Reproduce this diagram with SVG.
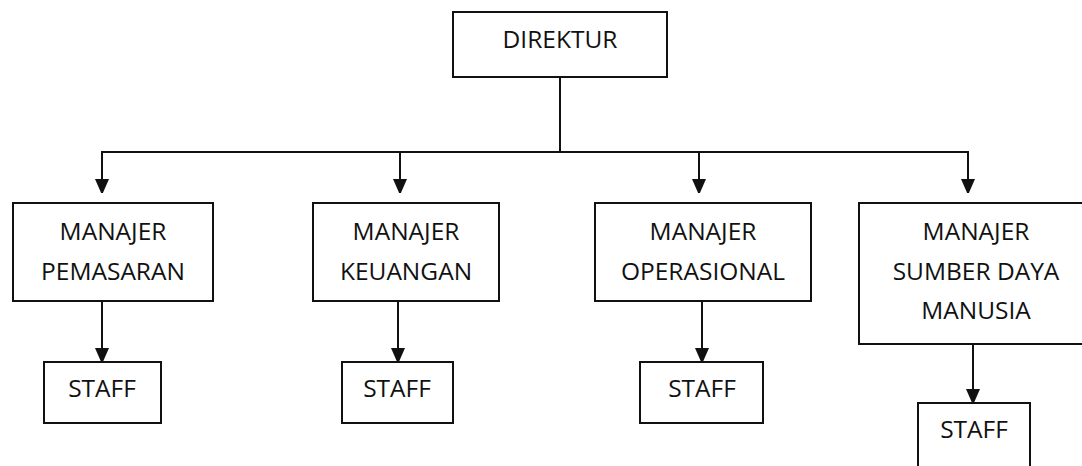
<svg xmlns="http://www.w3.org/2000/svg" width="1082" height="466" viewBox="0 0 1082 466">
  <style>
    .box { fill: #ffffff; stroke: #111111; stroke-width: 2; }
    .lbl { font-family: "Open Sans", "Liberation Sans", sans-serif; font-size: 24.5px; fill: #111111; text-anchor: middle; }
    .line { fill: none; stroke: #111111; stroke-width: 2; }
  </style>
  <defs>
    <marker id="arrow" viewBox="0 0 14 16" refX="14" refY="7" markerWidth="14" markerHeight="16" markerUnits="userSpaceOnUse" orient="auto">
      <path d="M0,0 L16,7 L0,14 Z" fill="#111111"/>
    </marker>
  </defs>
  <rect width="1082" height="466" fill="#ffffff"/>

  <g id="connectors">
    <line class="line" x1="560" y1="77" x2="560" y2="152"/>
    <line class="line" x1="101" y1="152" x2="969" y2="152"/>
    <line class="line" x1="102" y1="152" x2="102" y2="193" marker-end="url(#arrow)"/>
    <line class="line" x1="400" y1="152" x2="400" y2="193" marker-end="url(#arrow)"/>
    <line class="line" x1="699" y1="152" x2="699" y2="193" marker-end="url(#arrow)"/>
    <line class="line" x1="968" y1="152" x2="968" y2="193" marker-end="url(#arrow)"/>
    <line class="line" x1="102" y1="301" x2="102" y2="362" marker-end="url(#arrow)"/>
    <line class="line" x1="398" y1="301" x2="398" y2="362" marker-end="url(#arrow)"/>
    <line class="line" x1="702" y1="301" x2="702" y2="362" marker-end="url(#arrow)"/>
    <line class="line" x1="973" y1="344" x2="973" y2="403" marker-end="url(#arrow)"/>
  </g>

  <g id="direktur">
    <rect class="box" x="453" y="12" width="214" height="65"/>
    <text class="lbl" x="560" y="48">DIREKTUR</text>
  </g>

  <g id="manajer-pemasaran">
    <rect class="box" x="13" y="203" width="200" height="98"/>
    <text class="lbl" x="113" y="240">MANAJER</text>
    <text class="lbl" x="113" y="280">PEMASARAN</text>
  </g>

  <g id="manajer-keuangan">
    <rect class="box" x="313" y="203" width="186" height="98"/>
    <text class="lbl" x="406" y="240">MANAJER</text>
    <text class="lbl" x="406" y="280">KEUANGAN</text>
  </g>

  <g id="manajer-operasional">
    <rect class="box" x="595" y="203" width="216" height="98"/>
    <text class="lbl" x="703" y="240">MANAJER</text>
    <text class="lbl" x="703" y="280">OPERASIONAL</text>
  </g>

  <g id="manajer-sdm">
    <rect class="box" x="859" y="203" width="260" height="141"/>
    <text class="lbl" x="976" y="240">MANAJER</text>
    <text class="lbl" x="976" y="280">SUMBER DAYA</text>
    <text class="lbl" x="976" y="319">MANUSIA</text>
  </g>

  <g id="staff-pemasaran">
    <rect class="box" x="44" y="362" width="117" height="61"/>
    <text class="lbl" x="102" y="397">STAFF</text>
  </g>

  <g id="staff-keuangan">
    <rect class="box" x="342" y="362" width="111" height="61"/>
    <text class="lbl" x="397" y="397">STAFF</text>
  </g>

  <g id="staff-operasional">
    <rect class="box" x="640" y="362" width="123" height="61"/>
    <text class="lbl" x="702" y="397">STAFF</text>
  </g>

  <g id="staff-sdm">
    <rect class="box" x="918" y="403" width="112" height="80"/>
    <text class="lbl" x="974" y="438">STAFF</text>
  </g>
</svg>
